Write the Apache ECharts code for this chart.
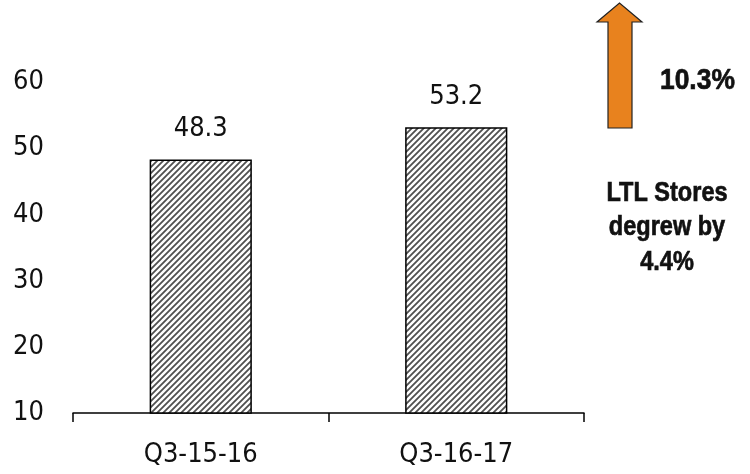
<!DOCTYPE html>
<html>
<head>
<meta charset="utf-8">
<script src="https://cdn.jsdelivr.net/npm/echarts@6/dist/echarts.min.js"></script>
<style>html,body{margin:0;padding:0;background:#fff}#c{width:750px;height:474px}</style>
</head>
<body>
<div id="c"></div>
<script>
const categories = ['Q3-15-16', 'Q3-16-17'];
const values = [48.3, 53.2];
const growthText = '10.3%';
const noteLines = ['LTL Stores', 'degrew by', '4.4%'];

const FONT = "'DejaVu Sans Condensed', sans-serif";
const BFONT = "'Liberation Sans', Arial, sans-serif";

function hatch() {
  const s = 6;
  const cv = document.createElement('canvas');
  cv.width = s; cv.height = s;
  const g = cv.getContext('2d');
  g.fillStyle = '#fff'; g.fillRect(0, 0, s, s);
  g.strokeStyle = '#505050'; g.lineWidth = 1.8;
  g.beginPath();
  g.moveTo(0, s); g.lineTo(s, 0);
  g.moveTo(-s/2, s/2); g.lineTo(s/2, -s/2);
  g.moveTo(s/2, s*1.5); g.lineTo(s*1.5, s/2);
  g.stroke();
  return cv;
}

const chart = echarts.init(document.getElementById('c'));
chart.setOption({
  animation: false,
  backgroundColor: '#fff',
  grid: { left: 73, right: 166, top: 16, bottom: 61 },
  xAxis: {
    type: 'category',
    data: categories,
    axisLine: { lineStyle: { color: '#000', width: 1.5 } },
    axisTick: { show: true, alignWithLabel: false, length: 9, lineStyle: { color: '#000', width: 1.5 } },
    axisLabel: { color: '#111', fontFamily: FONT, fontSize: 27, margin: 28 }
  },
  yAxis: {
    type: 'value',
    min: 10, max: 70, interval: 10,
    axisLine: { show: false },
    axisTick: { show: false },
    splitLine: { show: false },
    axisLabel: { color: '#111', fontFamily: FONT, fontSize: 27, align: 'left', margin: 60, showMaxLabel: false }
  },
  series: [{
    type: 'bar',
    data: values,
    barWidth: '40%',
    itemStyle: { color: { image: hatch(), repeat: 'repeat' }, borderColor: '#000', borderWidth: 1.5 },
    label: { show: true, position: 'top', distance: 17, color: '#111', fontFamily: FONT, fontSize: 27, formatter: p => p.value.toFixed(1) }
  }],
  graphic: [
    {
      type: 'polygon',
      shape: { points: [[608,128],[632,128],[632,22],[642,22],[619.5,3],[597,22],[608,22]] },
      style: { fill: '#E8821E', stroke: '#222', lineWidth: 1.2 }
    },
    {
      type: 'text', x: 660, y: 81, scaleX: 0.88,
      style: { text: growthText, font: "bold 30px " + BFONT, fill: '#111', stroke: '#111', lineWidth: 0.7, verticalAlign: 'middle' }
    },
    {
      type: 'text', x: 667, y: 176, scaleX: 0.84,
      style: { text: noteLines.join('\n'), font: "bold 28px " + BFONT, fill: '#111', stroke: '#111', lineWidth: 0.7, align: 'center', lineHeight: 34.5 }
    }
  ]
});
</script>
</body>
</html>
